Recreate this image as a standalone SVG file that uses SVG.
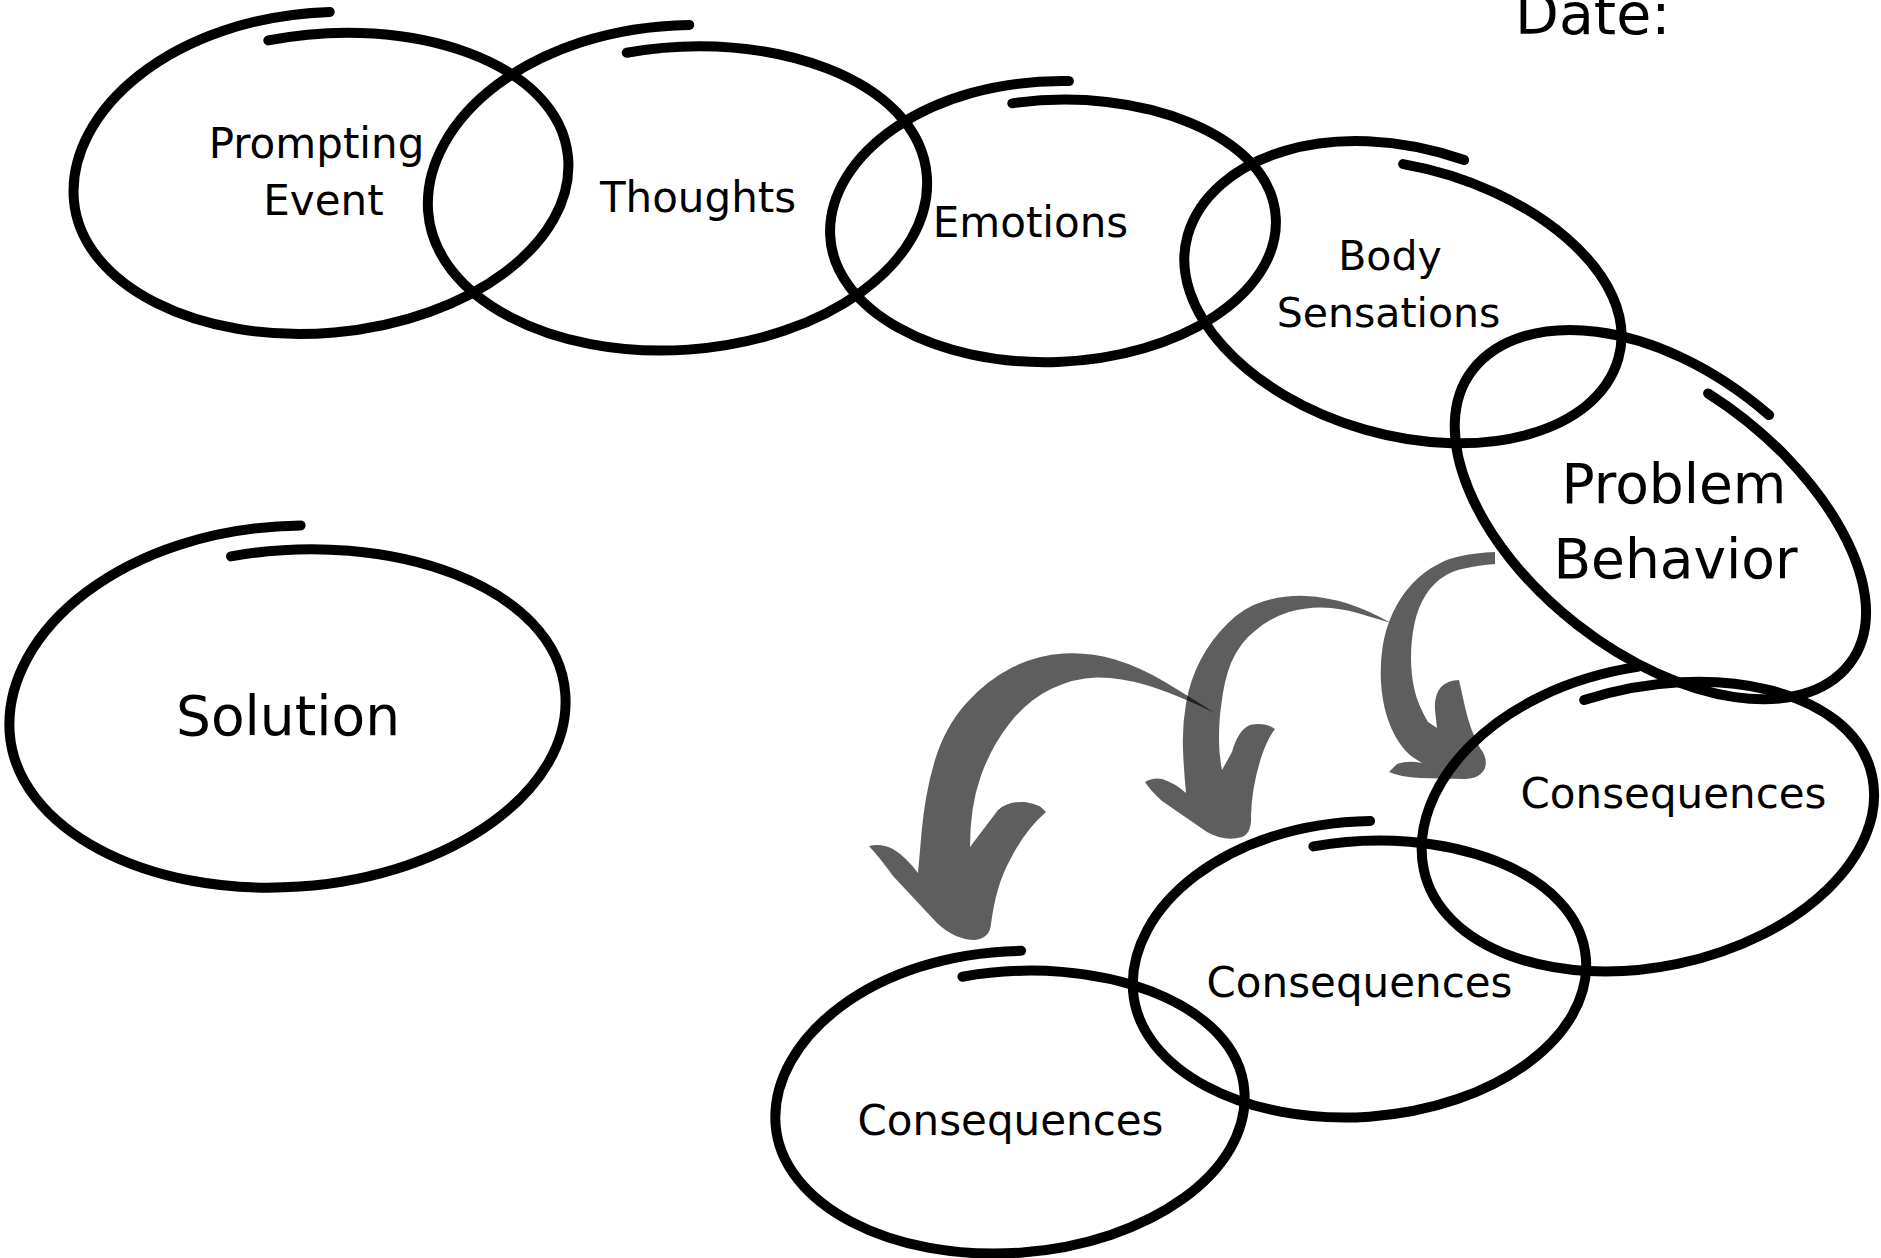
<svg xmlns="http://www.w3.org/2000/svg" xmlns:xlink="http://www.w3.org/1999/xlink" width="1881" height="1258" viewBox="0 0 1881 1258">
<style>
.lbl{font-family:"DejaVu Sans","Liberation Sans",sans-serif;fill:#000;text-anchor:middle}
.arrow{fill:#000;opacity:0.63}
</style>
<defs>
<path id="loop" d="M-0.163 -0.926 C0.412 -1.027 1 -0.622 1 0 C1 0.552 0.552 1 0 1 C-0.552 1 -1 0.552 -1 0 C-1 -0.587 -0.537 -1.131 0.094 -1.076" fill="none" stroke="#000" stroke-width="10" stroke-linecap="round" stroke-linejoin="round" vector-effect="non-scaling-stroke"/>
</defs>
<rect width="1881" height="1258" fill="#fff"/>
<text class="lbl" x="1515" y="34" font-size="57" style="text-anchor:start">Date:</text>
<g id="prompting-event">
<use xlink:href="#loop" href="#loop" transform="translate(321 179) rotate(-5) scale(248 154)"/>
<text class="lbl" x="316.5" y="158" font-size="42">Prompting</text>
<text class="lbl" x="323.5" y="215" font-size="42">Event</text>
</g>
<g id="thoughts">
<use xlink:href="#loop" href="#loop" transform="translate(677.5 194) rotate(-4) scale(250 156)"/>
<text class="lbl" x="698" y="212" font-size="42">Thoughts</text>
</g>
<g id="emotions">
<use xlink:href="#loop" href="#loop" transform="translate(1053 227) rotate(-2) scale(223 135)"/>
<text class="lbl" x="1030.5" y="237" font-size="42">Emotions</text>
</g>
<g id="body-sensations">
<use xlink:href="#loop" href="#loop" transform="translate(1403 297) rotate(16) scale(224 138)"/>
<text class="lbl" x="1390" y="270" font-size="41">Body</text>
<text class="lbl" x="1388.5" y="327" font-size="41">Sensations</text>
</g>
<g id="problem-behavior">
<use xlink:href="#loop" href="#loop" transform="translate(1661 517) rotate(38) scale(239 136.5)"/>
<text class="lbl" x="1674" y="503" font-size="55">Problem</text>
<text class="lbl" x="1675.5" y="578" font-size="55">Behavior</text>
</g>
<g id="consequences-1">
<use xlink:href="#loop" href="#loop" transform="translate(1648 823) rotate(-11.8) scale(229 144)"/>
<text class="lbl" x="1673.5" y="808" font-size="42">Consequences</text>
</g>
<g id="consequences-2">
<use xlink:href="#loop" href="#loop" transform="translate(1359.5 975) rotate(-4) scale(227 142)"/>
<text class="lbl" x="1359.5" y="997" font-size="42">Consequences</text>
</g>
<g id="consequences-3">
<use xlink:href="#loop" href="#loop" transform="translate(1010 1108) rotate(-4) scale(235 145)"/>
<text class="lbl" x="1010.5" y="1135" font-size="42">Consequences</text>
</g>
<g id="solution">
<use xlink:href="#loop" href="#loop" transform="translate(287.5 713.5) rotate(-4) scale(278.5 173.5)"/>
<text class="lbl" x="288" y="735" font-size="55">Solution</text>
</g>
<g id="connectors">
<path class="arrow" d="M1215 713 Q1190 697 1165 682 Q1140 667 1115 659.5 Q1090 652 1063.5 653.5 Q1037 655 1012 667.5 Q987 680 966 703.5 Q945 727 935 760 Q925 793 921.5 833 L918 873 Q906 857 893 849 Q881 843 869 846 Q880 858 893 876 L937 923 Q955 940 975 940 Q990 938 991 924 Q996 885 1010 860 Q1025 830 1046 812 Q1040 804 1025 802 Q1008 801 998 810 L970 847 Q970 807 980.5 777 Q991 747 1009.5 723.5 Q1028 700 1051 689 Q1074 678 1096.5 677.5 Q1119 677 1146 685 Q1173 693 1215 713 Z"/>
<path class="arrow" d="M1391 623 Q1368 610 1347.5 603.5 Q1327 597 1306 596 Q1285 595 1264.5 601 Q1244 607 1227.5 623.5 Q1211 640 1200.5 660 Q1190 680 1186 703.5 Q1182 727 1183 750 Q1184 773 1186 793 Q1175 783 1162 779 Q1153 777 1145 782 Q1150 790 1162 801 L1207 832 Q1225 842 1242 837 Q1252 833 1251 815 Q1252 785 1262 755 Q1268 738 1275 729 Q1265 722 1250 725 Q1238 730 1232 752 L1222 770 Q1219 755 1219 740 Q1219 720 1221 707 Q1224 680 1231 663 Q1240 642 1256 630 Q1270 618 1289 612 Q1310 606 1331 608 Q1350 610 1364 615 Q1378 619 1391 623 Z"/>
<path class="arrow" d="M1495 552 Q1455 554 1439.5 563.5 Q1424 571 1412 584 Q1400 597 1392.5 613.5 Q1385 630 1382.5 647.5 Q1380 665 1381 682.5 Q1382 700 1386.5 715 Q1391 730 1398.5 741.5 Q1406 753 1414 758 L1422 763 Q1408 760 1397 764 L1389 772 Q1400 777 1420 778 L1464 779 Q1480 779 1485 768 Q1488 758 1480 748 Q1470 730 1465 707 L1459 680 Q1448 680 1441 687 Q1434 695 1435 710 L1437 728 L1428 722 Q1418 705 1414.5 690 Q1411 675 1411 657.5 Q1411 640 1414.5 623.5 Q1418 607 1426 594.5 Q1434 582 1447 574.5 Q1460 567 1495 564 Z"/>
</g>
</svg>
